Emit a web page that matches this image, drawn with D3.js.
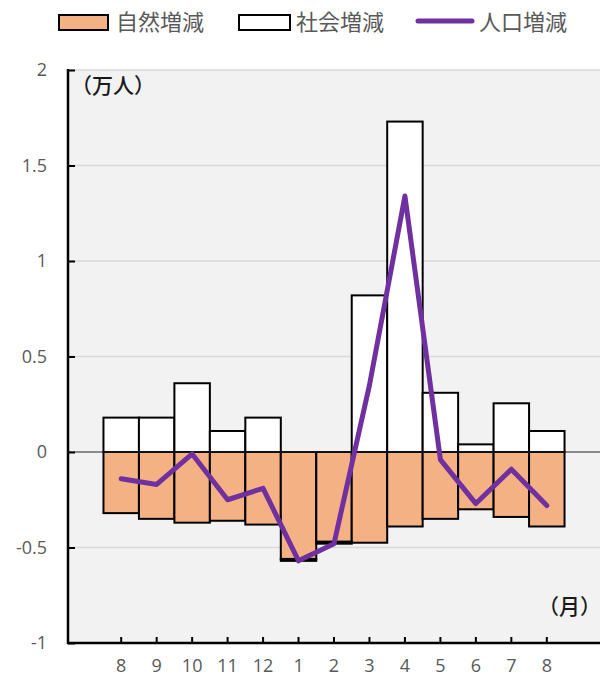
<!DOCTYPE html>
<html>
<head>
<meta charset="utf-8">
<script src="https://cdn.jsdelivr.net/npm/d3@7"></script>
<style>
  body { margin: 0; background: #fff; }
  svg text { font-family: "Open Sans", "Noto Sans CJK JP", sans-serif; }
</style>
</head>
<body>
<div id="chart"></div>
<script>
// --- DONNÉES ---
const months = ["8", "9", "10", "11", "12", "1", "2", "3", "4", "5", "6", "7", "8"];
const naturalChange = [-0.32, -0.35, -0.37, -0.36, -0.38, -0.56, -0.47, -0.475, -0.39, -0.35, -0.30, -0.34, -0.39];
const socialChange  = [0.18, 0.18, 0.36, 0.11, 0.18, -0.01, -0.01, 0.82, 1.73, 0.31, 0.04, 0.255, 0.11];
const popChange     = [-0.14, -0.17, -0.01, -0.25, -0.19, -0.57, -0.48, 0.35, 1.34, -0.04, -0.27, -0.09, -0.28];
const yTicks = [-1, -0.5, 0, 0.5, 1, 1.5, 2];

const W = 605, H = 679;
const plotL = 68, plotR = 600, plotT = 70, plotB = 643;

const svg = d3.select("#chart").append("svg").attr("width", W).attr("height", H);

const rows = months.map((m, i) => ({ key: i, month: m, natural: naturalChange[i], social: socialChange[i] }));

const x = d3.scaleBand().domain(rows.map(d => d.key)).range([plotL, plotR]).paddingInner(0).paddingOuter(1);
const y = d3.scaleLinear().domain([-1, 2]).range([plotB, plotT]);

// fond zone de tracé
svg.append("rect").attr("x", plotL).attr("y", plotT).attr("width", plotR - plotL).attr("height", plotB - plotT).attr("fill", "#f2f2f2");

// grille
svg.append("g").selectAll("line").data(yTicks.filter(t => t !== 0 && t !== -1)).join("line")
    .attr("x1", plotL).attr("x2", plotR).attr("y1", d => y(d)).attr("y2", d => y(d))
    .attr("stroke", "#d9d9d9").attr("stroke-width", 1.5);

// barres empilées
const stack = d3.stack().keys(["natural", "social"]).offset(d3.stackOffsetDiverging);
const series = stack(rows);
const fills = { natural: "#f4b183", social: "#ffffff" };

svg.append("g").selectAll("g").data(series).join("g")
    .attr("fill", s => fills[s.key])
    .selectAll("rect").data(s => s).join("rect")
    .attr("x", d => x(d.data.key))
    .attr("width", x.bandwidth())
    .attr("y", d => y(Math.max(d[0], d[1])))
    .attr("height", d => Math.abs(y(d[0]) - y(d[1])))
    .attr("stroke", "#000").attr("stroke-width", 2);

// ligne zéro
svg.append("line").attr("x1", plotL).attr("x2", plotR).attr("y1", y(0)).attr("y2", y(0))
    .attr("stroke", "#222").attr("stroke-width", 1.2);

// courbe population
const line = d3.line().x((d, i) => x(i) + x.bandwidth() / 2).y(d => y(d));
svg.append("path").datum(popChange).attr("d", line)
    .attr("fill", "none").attr("stroke", "#7030a0").attr("stroke-width", 5)
    .attr("stroke-linejoin", "round").attr("stroke-linecap", "round");

// axe Y
const yAxis = svg.append("g").attr("transform", `translate(${plotL},0)`)
    .call(d3.axisRight(y).tickValues(yTicks).tickSize(7).tickFormat(d => String(d)));
yAxis.select(".domain").remove();
yAxis.selectAll(".tick line").attr("stroke", "#000").attr("stroke-width", 2);
yAxis.selectAll(".tick text").attr("x", -21).attr("text-anchor", "end")
    .attr("fill", "#595959").style("font-size", "18px");
svg.append("line").attr("x1", plotL).attr("x2", plotL).attr("y1", plotT - 1).attr("y2", plotB + 1)
    .attr("stroke", "#000").attr("stroke-width", 2.5);

// axe X
const xAxis = svg.append("g").attr("transform", `translate(0,${plotB})`)
    .call(d3.axisTop(x).tickSize(6).tickFormat(i => months[i]));
xAxis.select(".domain").remove();
xAxis.selectAll(".tick line").attr("stroke", "#000").attr("stroke-width", 2);
xAxis.selectAll(".tick text").attr("y", 29).attr("dy", 0)
    .attr("fill", "#595959").style("font-size", "18px");
svg.append("line").attr("x1", plotL - 1).attr("x2", plotR).attr("y1", plotB).attr("y2", plotB)
    .attr("stroke", "#000").attr("stroke-width", 2.5);

// unités
svg.append("text").attr("x", 71).attr("y", 93).text("（万人）")
    .attr("fill", "#1a1a1a").style("font-size", "21px").style("font-weight", "500");
svg.append("text").attr("x", 601).attr("y", 614).attr("text-anchor", "end").text("（月）")
    .attr("fill", "#1a1a1a").style("font-size", "21px").style("font-weight", "500");

// Légende
const leg = svg.append("g").style("font-size", "22px");
leg.append("rect").attr("x", 59).attr("y", 15).attr("width", 49).attr("height", 15)
    .attr("fill", "#f4b183").attr("stroke", "#000").attr("stroke-width", 2);
leg.append("text").attr("x", 116).attr("y", 30).text("自然増減").attr("fill", "#595959");
leg.append("rect").attr("x", 239).attr("y", 15).attr("width", 51).attr("height", 15)
    .attr("fill", "#fff").attr("stroke", "#000").attr("stroke-width", 2);
leg.append("text").attr("x", 296).attr("y", 30).text("社会増減").attr("fill", "#595959");
leg.append("line").attr("x1", 418).attr("x2", 472).attr("y1", 21).attr("y2", 21)
    .attr("stroke", "#7030a0").attr("stroke-width", 5).attr("stroke-linecap", "round");
leg.append("text").attr("x", 479).attr("y", 30).text("人口増減").attr("fill", "#595959");
</script>
</body>
</html>
